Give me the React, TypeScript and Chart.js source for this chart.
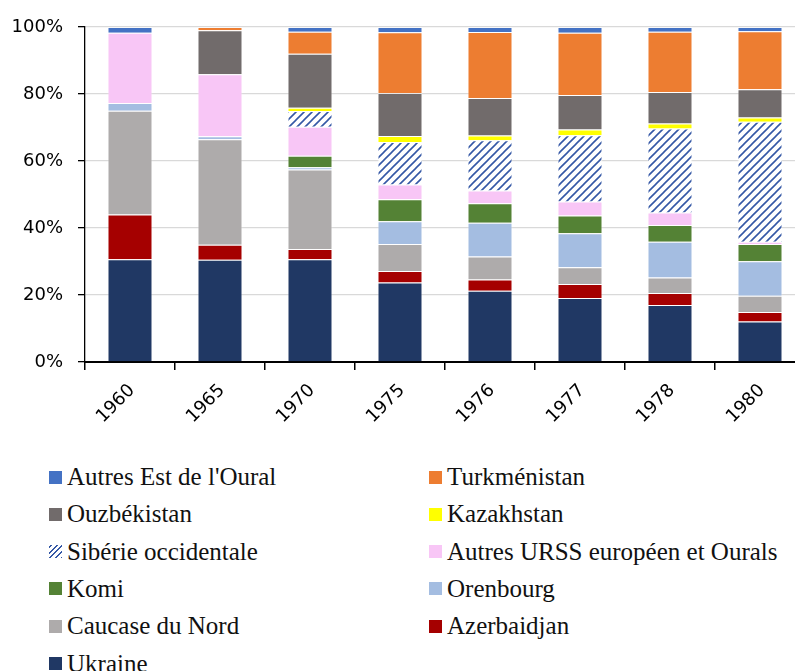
import React, { useEffect, useRef } from 'react';
import { Chart, registerables } from 'chart.js';

Chart.register(...registerables);

const years = ['1960', '1965', '1970', '1975', '1976', '1977', '1978', '1980'];
const yTicks = [0, 20, 40, 60, 80, 100];

// values in % of total, bottom of the stack first
const ukraine = [30.7, 30.5, 30.7, 23.7, 21.3, 19.1, 17.0, 12.1];
const azerbaidjan = [13.3, 4.5, 3.0, 3.5, 3.3, 4.2, 3.6, 2.8];
const caucaseNord = [31.0, 31.5, 23.8, 8.0, 6.9, 5.0, 4.6, 4.9];
const orenbourg = [2.3, 0.9, 0.6, 6.8, 10.1, 10.1, 10.7, 10.3];
const komi = [0, 0, 3.5, 6.6, 5.8, 5.3, 5.0, 5.1];
const autresUrss = [21.0, 18.5, 8.6, 4.4, 3.8, 4.2, 3.7, 0.7];
const siberie = [0, 0, 4.7, 12.7, 15.0, 19.8, 25.1, 35.8];
const kazakhstan = [0, 0, 1.0, 1.8, 1.4, 1.7, 1.5, 1.3];
const ouzbekistan = [0, 13.1, 16.1, 12.8, 11.2, 10.3, 9.4, 8.4];
const turkmenistan = [0, 1.0, 6.6, 18.1, 19.7, 18.6, 18.0, 17.3];
const autresEst = [1.7, 0, 1.4, 1.6, 1.5, 1.7, 1.4, 1.3];

const series = [
  { label: 'Ukraine', data: ukraine, color: '#203864' },
  { label: 'Azerbaidjan', data: azerbaidjan, color: '#A50000' },
  { label: 'Caucase du Nord', data: caucaseNord, color: '#AEABAB' },
  { label: 'Orenbourg', data: orenbourg, color: '#A4BDE1' },
  { label: 'Komi', data: komi, color: '#548235' },
  { label: 'Autres URSS européen et Ourals', data: autresUrss, color: '#F8C6F6' },
  { label: 'Sibérie occidentale', data: siberie, color: 'hatch' },
  { label: 'Kazakhstan', data: kazakhstan, color: '#FFFF00' },
  { label: 'Ouzbékistan', data: ouzbekistan, color: '#716B6B' },
  { label: 'Turkménistan', data: turkmenistan, color: '#ED7D31' },
  { label: "Autres Est de l'Oural", data: autresEst, color: '#4472C4' },
];

const HATCH = '#3558A6';

function makeHatch(): CanvasPattern | string {
  const c = document.createElement('canvas');
  c.width = 8;
  c.height = 8;
  const ctx = c.getContext('2d');
  if (!ctx) return '#fff';
  ctx.fillStyle = '#ffffff';
  ctx.fillRect(0, 0, 8, 8);
  ctx.strokeStyle = HATCH;
  ctx.lineWidth = 1.6;
  ctx.beginPath();
  ctx.moveTo(-1, 9);
  ctx.lineTo(9, -1);
  ctx.moveTo(-1, 1);
  ctx.lineTo(1, -1);
  ctx.moveTo(7, 9);
  ctx.lineTo(9, 7);
  ctx.stroke();
  const p = ctx.createPattern(c, 'repeat');
  return p || '#fff';
}

const CANVAS_W = 812;
const CANVAS_H = 460;
const AREA_LEFT = 85;
const AREA_TOP = 27;
const AREA_BOTTOM = 362;
const AREA_RIGHT = 805;

export default function App() {
  const ref = useRef<HTMLCanvasElement | null>(null);

  useEffect(() => {
    if (!ref.current) return;
    const hatch = makeHatch();
    const chart = new Chart(ref.current, {
      type: 'bar',
      data: {
        labels: years,
        datasets: series.map((s) => ({
          label: s.label,
          data: s.data,
          backgroundColor: s.color === 'hatch' ? (hatch as any) : s.color,
          borderColor: 'rgba(255,255,255,0.35)',
          borderWidth: 1,
          categoryPercentage: 1,
          barPercentage: 0.5,
        })),
      },
      options: {
        responsive: false,
        animation: false,
        layout: { padding: { top: AREA_TOP, left: 0, bottom: 0, right: CANVAS_W - AREA_RIGHT } },
        plugins: { legend: { display: false }, tooltip: { enabled: false } },
        scales: {
          x: {
            stacked: true,
            offset: true,
            grid: {
              offset: true,
              drawOnChartArea: false,
              drawTicks: true,
              tickLength: 8,
              color: '#000',
              lineWidth: 1.5,
            },
            border: { color: '#000', width: 2 },
            ticks: {
              color: '#000',
              font: { family: 'DejaVu Sans', size: 18 },
              minRotation: 45,
              maxRotation: 45,
              padding: 10,
              labelOffset: 2,
            },
            afterFit: (scale: any) => {
              scale.height = CANVAS_H - AREA_BOTTOM;
            },
          },
          y: {
            stacked: true,
            min: 0,
            max: 100,
            afterBuildTicks: (scale: any) => {
              scale.ticks = yTicks.map((v) => ({ value: v }));
            },
            grid: { color: '#D9D9D9', lineWidth: 1.3, tickColor: '#000', tickLength: 7 },
            border: { color: '#000', width: 1.3 },
            ticks: {
              color: '#000',
              font: { family: 'DejaVu Sans', size: 18 },
              padding: 15,
              callback: (v: any) => v + '%',
            },
            afterFit: (scale: any) => {
              scale.width = AREA_LEFT;
            },
          },
        },
      },
    });
    return () => chart.destroy();
  }, []);

  const legendItems = series.slice().reverse();

  return (
    <div
      style={{
        position: 'fixed',
        left: 0,
        top: 0,
        width: 795,
        height: 671,
        overflow: 'hidden',
        background: '#fff',
      }}
    >
      <canvas ref={ref} width={CANVAS_W} height={CANVAS_H} style={{ display: 'block' }} />
      {legendItems.map((s, i) => {
        const col = i % 2;
        const row = Math.floor(i / 2);
        const top = 462 + row * 37.3;
        const left = col === 0 ? 49 : 429;
        return (
          <div
            key={s.label}
            style={{
              position: 'absolute',
              left,
              top,
              height: 30,
              lineHeight: '30px',
              display: 'flex',
              alignItems: 'center',
              whiteSpace: 'nowrap',
              fontFamily: '"Liberation Serif", serif',
              fontSize: 25,
              color: '#111',
            }}
          >
            <span
              style={{
                display: 'inline-block',
                width: 13,
                height: 13,
                marginRight: 5,
                background:
                  s.color === 'hatch'
                    ? `repeating-linear-gradient(-45deg, ${HATCH} 0 1.4px, #fff 1.4px 4px)`
                    : s.color,
              }}
            />
            <span>{s.label}</span>
          </div>
        );
      })}
    </div>
  );
}
